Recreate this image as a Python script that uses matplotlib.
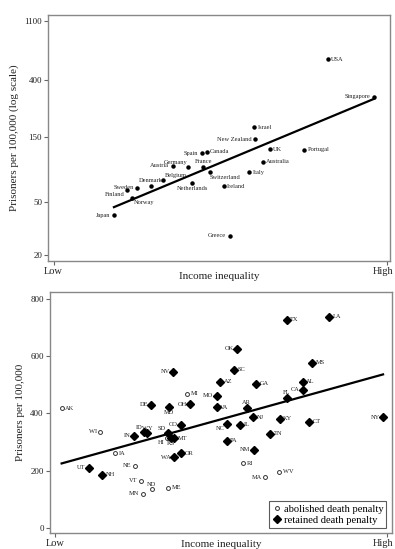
import numpy as np
import matplotlib
matplotlib.use("Agg")
import matplotlib.pyplot as plt

plt.rcParams['font.family'] = ['Liberation Serif', 'DejaVu Serif']

# top panel: rich countries
countries = ['Japan', 'Finland', 'Norway', 'Sweden', 'Denmark', 'Belgium', 'Austria',
             'Germany', 'Netherlands', 'Spain', 'Canada', 'France', 'Switzerland',
             'Ireland', 'Italy', 'Australia', 'UK', 'Portugal', 'New Zealand',
             'Israel', 'Greece', 'USA', 'Singapore']
country_ineq = [18.1, 21.9, 23.5, 25.0, 29.1, 32.8, 35.7, 40.4, 41.5, 44.4, 45.9, 44.8, 46.9,
                51.0, 58.5, 62.6, 64.8, 75.1, 60.3, 60.1, 52.8, 82.1, 96.0]
country_prison = [39.7, 60.9, 53.1, 63.1, 65.2, 72.3, 91.9, 90.8, 68.3, 114, 117, 90.3, 82.5,
                  64.7, 82.5, 99.2, 122.9, 120.9, 145, 178, 27.9, 571, 301]
country_pos = [9, 7, 4, 9, 12, 1, 9, 11, 6, 9, 3, 12, 5,
               3, 3, 3, 3, 3, 9, 3, 9, 3, 9]

# bottom panel: US states
states = ['AK', 'WI', 'IA', 'UT', 'NE', 'NH', 'VT', 'MN', 'ND', 'ME',
          'IN', 'ID', 'WY', 'SD', 'HI', 'KS', 'MT', 'CO', 'WA', 'OR',
          'DE', 'MD', 'OH', 'MI', 'NV', 'SC', 'AZ', 'GA', 'MO', 'VA',
          'AR', 'OK', 'TX', 'LA', 'MS', 'AL', 'CA', 'FL', 'NJ', 'KY',
          'CT', 'NY', 'NC', 'IL', 'TN', 'PA', 'NM', 'RI', 'MA', 'WV']
state_ineq = [2.0, 13.6, 18.1, 10.3, 24.1, 14.2, 25.9, 26.4, 29.1, 34.1,
              23.9, 26.8, 27.8, 33.9, 33.6, 34.9, 35.8, 38.1, 35.9, 38.0,
              29.0, 34.3, 40.8, 39.7, 35.6, 53.9, 49.7, 60.5, 48.7, 48.7,
              57.7, 54.9, 69.8, 82.5, 77.5, 74.6, 74.6, 69.8, 59.7, 67.7,
              76.6, 98.8, 51.8, 55.7, 64.8, 51.7, 59.9, 56.7, 63.3, 67.5]
state_prison = [418, 336, 260.5, 210, 216, 184.5, 164.6, 118, 134.4, 140,
                322, 335, 330, 332.6, 313, 313, 313, 359.6, 246.5, 260.5,
                429.6, 421.5, 432.5, 468, 546, 552, 510, 503, 461, 421.5,
                420, 625.7, 727, 739, 577.7, 511, 482, 453, 386.5, 381,
                371, 386.5, 363, 359.6, 328, 303.6, 272, 225.5, 176.5, 196]
abolished = ['AK', 'WI', 'IA', 'NE', 'VT', 'MN', 'ND', 'ME', 'HI', 'MI', 'RI', 'MA', 'WV']
state_pos = [3, 9, 3, 9, 9, 3, 9, 9, 12, 3,
             9, 11, 12, 11, 7, 6, 3, 9, 9, 3,
             9, 6, 9, 3, 9, 3, 3, 3, 9, 3,
             12, 9, 3, 3, 3, 3, 9, 12, 3, 3,
             3, 9, 7, 3, 3, 3, 9, 3, 9, 3]

# clock position -> text offset (points) and alignment
CLOCK = {
    3: (2.5, 0, 'left', 'center'),
    9: (-2.5, 0, 'right', 'center'),
    12: (0, 2, 'center', 'bottom'),
    6: (0, -2, 'center', 'top'),
    1: (1.5, 1.5, 'left', 'bottom'),
    11: (-1, 1.5, 'right', 'bottom'),
    4: (1.5, -1.5, 'left', 'top'),
    5: (0, -2, 'left', 'top'),
    7: (-1.5, -1.5, 'right', 'top'),
}

def label(ax, x, y, txt, pos, fs):
    dx, dy, ha, va = CLOCK[pos]
    ax.annotate(txt, (x, y), xytext=(dx, dy), textcoords='offset points',
                ha=ha, va=va, fontsize=fs, color='#222222')

def style(ax, pad):
    for s in ax.spines.values():
        s.set_color('#888888')
        s.set_linewidth(1.0)
    ax.tick_params(axis='both', direction='out', length=3, width=0.8, color='#666666',
                   labelsize=6.5, labelcolor='#222222', pad=1.5)
    ax.set_xticks([0, 100])
    ax.set_xticklabels(['Low', ''], fontsize=7.5)
    # "High" nudged left so it stays inside the figure
    ax.annotate('High', xy=(100, 0), xycoords=('data', 'axes fraction'),
                xytext=(-3, -4.5), textcoords='offset points',
                ha='center', va='top', fontsize=7.5, color='#222222')
    ax.set_xlabel('Income inequality', fontsize=8, color='#222222', labelpad=pad)

fig = plt.figure(figsize=(3.95, 5.49), dpi=100)

# ---- top panel ----
ax1 = fig.add_axes([0.1223, 0.5246, 0.8647, 0.4481])
cx = np.array(country_ineq)
cy = np.array(country_prison)
ax1.plot(cx, cy, 'o', color='black', ms=2.2, ls='none')
for x, y, t, p in zip(cx, cy, countries, country_pos):
    label(ax1, x, y, t, p, 4.6)
b, a = np.polyfit(cx, np.log10(cy), 1)
xx = np.array([cx.min(), cx.max()])
ax1.plot(xx, 10 ** (a + b * xx), color='black', lw=1.6)
ax1.set_yscale('log')
ax1.set_ylim(18.07, 1219)
ax1.set_xlim(-1.56, 100.75)
ax1.set_yticks([20, 50, 150, 400, 1100])
ax1.set_yticklabels(['20', '50', '150', '400', '1100'])
ax1.yaxis.set_minor_locator(matplotlib.ticker.NullLocator())
ax1.set_ylabel('Prisoners per 100,000 (log scale)', fontsize=8, color='#222222', labelpad=4)
style(ax1, -3)

# ---- bottom panel ----
ax2 = fig.add_axes([0.1266, 0.0291, 0.8650, 0.4396])
sx = np.array(state_ineq)
sy = np.array(state_prison)
ab = np.array([s in abolished for s in states])
ax2.plot(sx[ab], sy[ab], 'o', mfc='white', mec='#333333', mew=0.7, ms=2.8, ls='none',
         label='abolished death penalty')
ax2.plot(sx[~ab], sy[~ab], 'D', color='black', ms=3.6, ls='none',
         label='retained death penalty')
for x, y, t, p in zip(sx, sy, states, state_pos):
    label(ax2, x, y, t, p, 4.6)
b2, a2 = np.polyfit(sx, sy, 1)
xx2 = np.array([sx.min(), sx.max()])
ax2.plot(xx2, a2 + b2 * xx2, color='black', lw=1.6)
ax2.set_xlim(-1.5, 101.4)
ax2.set_ylim(-18.6, 826)
ax2.set_yticks([0, 200, 400, 600, 800])
ax2.set_ylabel('Prisoners per 100,000', fontsize=8, color='#222222', labelpad=4)
style(ax2, -6)
leg = ax2.legend(loc='lower right', fontsize=7.6, frameon=True, fancybox=False,
                 handletextpad=0.1, handlelength=1.0, borderpad=0.3, labelspacing=0.15,
                 borderaxespad=0.5)
leg.get_frame().set_edgecolor('#333333')
leg.get_frame().set_linewidth(0.8)

fig.savefig('out.png', dpi=100)
